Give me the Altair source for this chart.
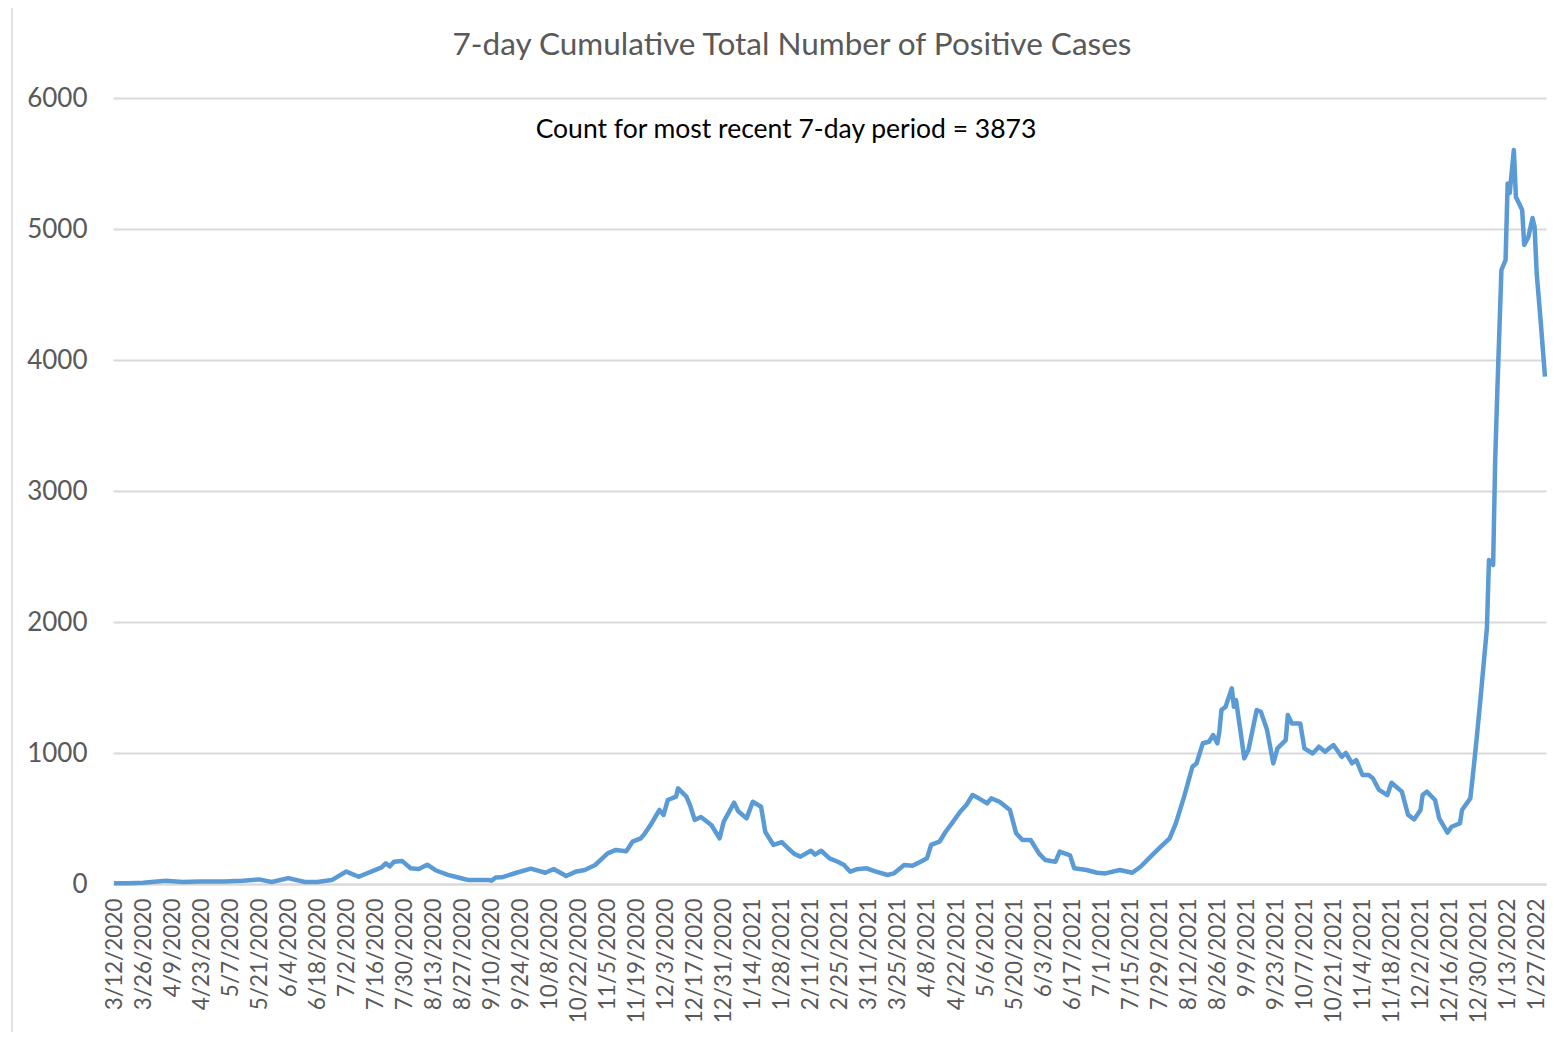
import altair as alt
import pandas as pd

# Day offset from 3/12/2020 (index of the daily series) and 7-day cumulative positive cases
start_date = "2020-03-12"
day_index = [
    0, 7, 14, 25, 33, 41, 53, 62, 70, 76, 84, 92, 98, 105, 112, 118, 124, 129, 131, 133,
    135, 139, 143, 147, 151, 155, 161, 166, 171, 181, 182, 184, 187, 194, 201, 208, 212, 218, 223, 227,
    232, 238, 242, 247, 250, 254, 256, 259, 263, 265, 267, 271, 272, 276, 278, 280, 283, 288, 292, 294,
    299, 301, 305, 308, 312, 314, 318, 322, 325, 328, 331, 336, 338, 341, 345, 349, 352, 355, 358, 363,
    367, 373, 376, 381, 385, 388, 392, 394, 398, 401, 404, 408, 411, 414, 417, 421, 423, 427, 432, 435,
    438, 442, 446, 449, 454, 456, 461, 463, 469, 474, 478, 485, 491, 495, 499, 504, 509, 512, 516, 520,
    522, 525, 528, 530, 532, 533, 534, 536, 539, 540, 541, 543, 545, 547, 551, 553, 556, 559, 561, 565,
    566, 568, 572, 574, 578, 581, 584, 586, 588, 592, 594, 597, 599, 602, 605, 607, 610, 614, 616, 621,
    624, 627, 630, 631, 633, 637, 639, 643, 645, 649, 650, 654, 655, 657, 659, 662, 663, 665, 666, 667,
    669, 671, 672, 673, 675, 676, 679, 680, 682, 684, 685, 686, 688, 690,
]
cases = [
    5, 5, 10, 25, 15, 20, 20, 25, 35, 15, 45, 15, 15, 30, 95, 55, 95, 127, 158, 135,
    170, 175, 120, 115, 147, 105, 70, 50, 30, 30, 25, 50, 51, 86, 117, 86, 115, 61, 96, 107,
    145, 234, 260, 250, 323, 348, 387, 458, 565, 527, 641, 667, 730, 667, 590, 489, 512, 450, 349, 476,
    621, 555, 501, 628, 590, 399, 298, 320, 273, 230, 209, 254, 224, 254, 196, 170, 145, 94, 112, 120,
    96, 69, 81, 145, 140, 163, 196, 298, 323, 399, 463, 552, 603, 679, 654, 616, 654, 628, 565, 387,
    336, 336, 234, 183, 170, 247, 219, 120, 107, 86, 81, 107, 86, 132, 196, 273, 349, 463, 667, 895,
    920, 1074, 1086, 1137, 1074, 1163, 1328, 1353, 1494, 1353, 1405, 1188, 959, 1023, 1328, 1315, 1175, 921, 1036, 1099,
    1290, 1226, 1226, 1035, 996, 1048, 1010, 1036, 1061, 971, 1000, 921, 946, 832, 832, 807, 718, 679, 773, 705,
    527, 494, 565, 679, 705, 641, 501, 392, 437, 463, 565, 654, 794, 1100, 1430, 1952, 2473, 2435, 3237, 3748,
    4687, 4763, 5348, 5275, 5603, 5244, 5145, 4878, 4939, 5084, 5015, 4664, 4282, 3873,
]
y_ticks = [0, 1000, 2000, 3000, 4000, 5000, 6000]
title_text = "7-day Cumulative Total Number of Positive Cases"
note_text = "Count for most recent 7-day period = 3873"
last_day = 690

t0 = pd.Timestamp(start_date)
df = pd.DataFrame({
    "date": [t0 + pd.Timedelta(days=d) for d in day_index],
    "cases": cases,
})
df["date"] = df["date"].dt.strftime("%Y-%m-%dT%H:%M:%SZ")

def ms(ts):
    return int(ts.value // 10**6)

tick_vals = [ms(t0 + pd.Timedelta(days=14 * i)) for i in range(50)]
x_domain = [ms(t0 - pd.Timedelta(hours=12)), ms(t0 + pd.Timedelta(days=last_day, hours=12))]

FONT = "Lato"
GRAY = "#595959"

line = alt.Chart(df).mark_line(color="#5B9BD5", strokeWidth=4.5, strokeJoin="round").encode(
    x=alt.X(
        "date:T",
        scale=alt.Scale(type="utc", domain=x_domain, nice=False),
        axis=alt.Axis(
            values=tick_vals,
            labelExpr="utcFormat(datum.value, '%-m/%-d/%Y')",
            labelAngle=270,
            labelFontSize=22.5,
            labelColor=GRAY,
            labelFont=FONT,
            labelPadding=14,
            ticks=False,
            grid=False,
            domainColor="#d9d9d9",
            domainWidth=2,
            title=None,
            labelOverlap=False,
        ),
    ),
    y=alt.Y(
        "cases:Q",
        scale=alt.Scale(domain=[0, 6000], nice=False),
        axis=alt.Axis(
            values=y_ticks,
            format="d",
            labelFontSize=26,
            labelColor=GRAY,
            labelFont=FONT,
            labelPadding=26,
            ticks=False,
            domain=False,
            gridColor="#d9d9d9",
            gridWidth=2,
            title=None,
        ),
    ),
)

note = alt.Chart(pd.DataFrame({"t": [note_text]})).mark_text(
    font=FONT, fontSize=26.5, color="black", align="center", baseline="middle"
).encode(x=alt.value(673), y=alt.value(32), text="t:N")

title = alt.Chart(pd.DataFrame({"t": [title_text]})).mark_text(
    font=FONT, fontSize=31.5, color=GRAY, align="center", baseline="middle"
).encode(x=alt.value(679), y=alt.value(-52), text="t:N")

border = alt.Chart(pd.DataFrame({"a": [0]})).mark_rect(
    fill=None, stroke="#d9d9d9", strokeWidth=1.5, clip=False
).encode(x=alt.value(-101), x2=alt.value(1460), y=alt.value(-93), y2=alt.value(960))

chart = alt.layer(border, line, note, title).properties(
    width=1433,
    height=786,
    autosize=alt.AutoSizeParams(type="none"),
    padding={"left": 105, "top": 90, "right": 6, "bottom": 148},
).configure_view(stroke=None)

chart.save("out.html", embed_options={"renderer": "svg", "actions": False})
